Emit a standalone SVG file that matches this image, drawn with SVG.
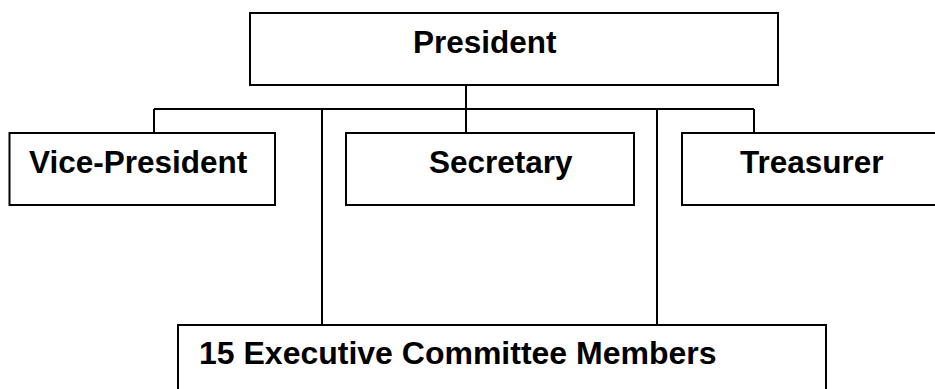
<svg xmlns="http://www.w3.org/2000/svg" width="935" height="389" viewBox="0 0 935 389">
  <style>
    .box { fill: #ffffff; stroke: #000000; stroke-width: 2; }
    .link { fill: none; stroke: #000000; stroke-width: 2; }
    .label { font-family: "Liberation Sans", Arial, sans-serif; font-weight: bold; font-size: 31.5px; fill: #000000; }
    .wide { font-size: 32px; }
  </style>
  <rect width="935" height="389" fill="#ffffff"/>

  <g id="connectors">
    <line class="link" x1="466" y1="85" x2="466" y2="133"/>
    <line class="link" x1="154" y1="109" x2="754" y2="109"/>
    <line class="link" x1="154" y1="109" x2="154" y2="133"/>
    <line class="link" x1="754" y1="109" x2="754" y2="133"/>
    <line class="link" x1="322" y1="109" x2="322" y2="325"/>
    <line class="link" x1="657" y1="109" x2="657" y2="325"/>
  </g>

  <g id="president">
    <rect class="box" x="250" y="13" width="528" height="72"/>
    <text class="label" x="413" y="53">President</text>
  </g>

  <g id="vice-president">
    <rect class="box" x="9.5" y="133" width="265.5" height="72"/>
    <text class="label" x="29" y="173">Vice-President</text>
  </g>

  <g id="secretary">
    <rect class="box" x="346" y="133" width="288" height="72"/>
    <text class="label" x="429" y="173">Secretary</text>
  </g>

  <g id="treasurer">
    <rect class="box" x="682" y="133" width="270" height="72"/>
    <text class="label" x="740" y="173">Treasurer</text>
  </g>

  <g id="executive-committee">
    <rect class="box" x="178" y="325" width="648" height="80"/>
    <text class="label wide" x="199" y="364">15 Executive Committee Members</text>
  </g>
</svg>
